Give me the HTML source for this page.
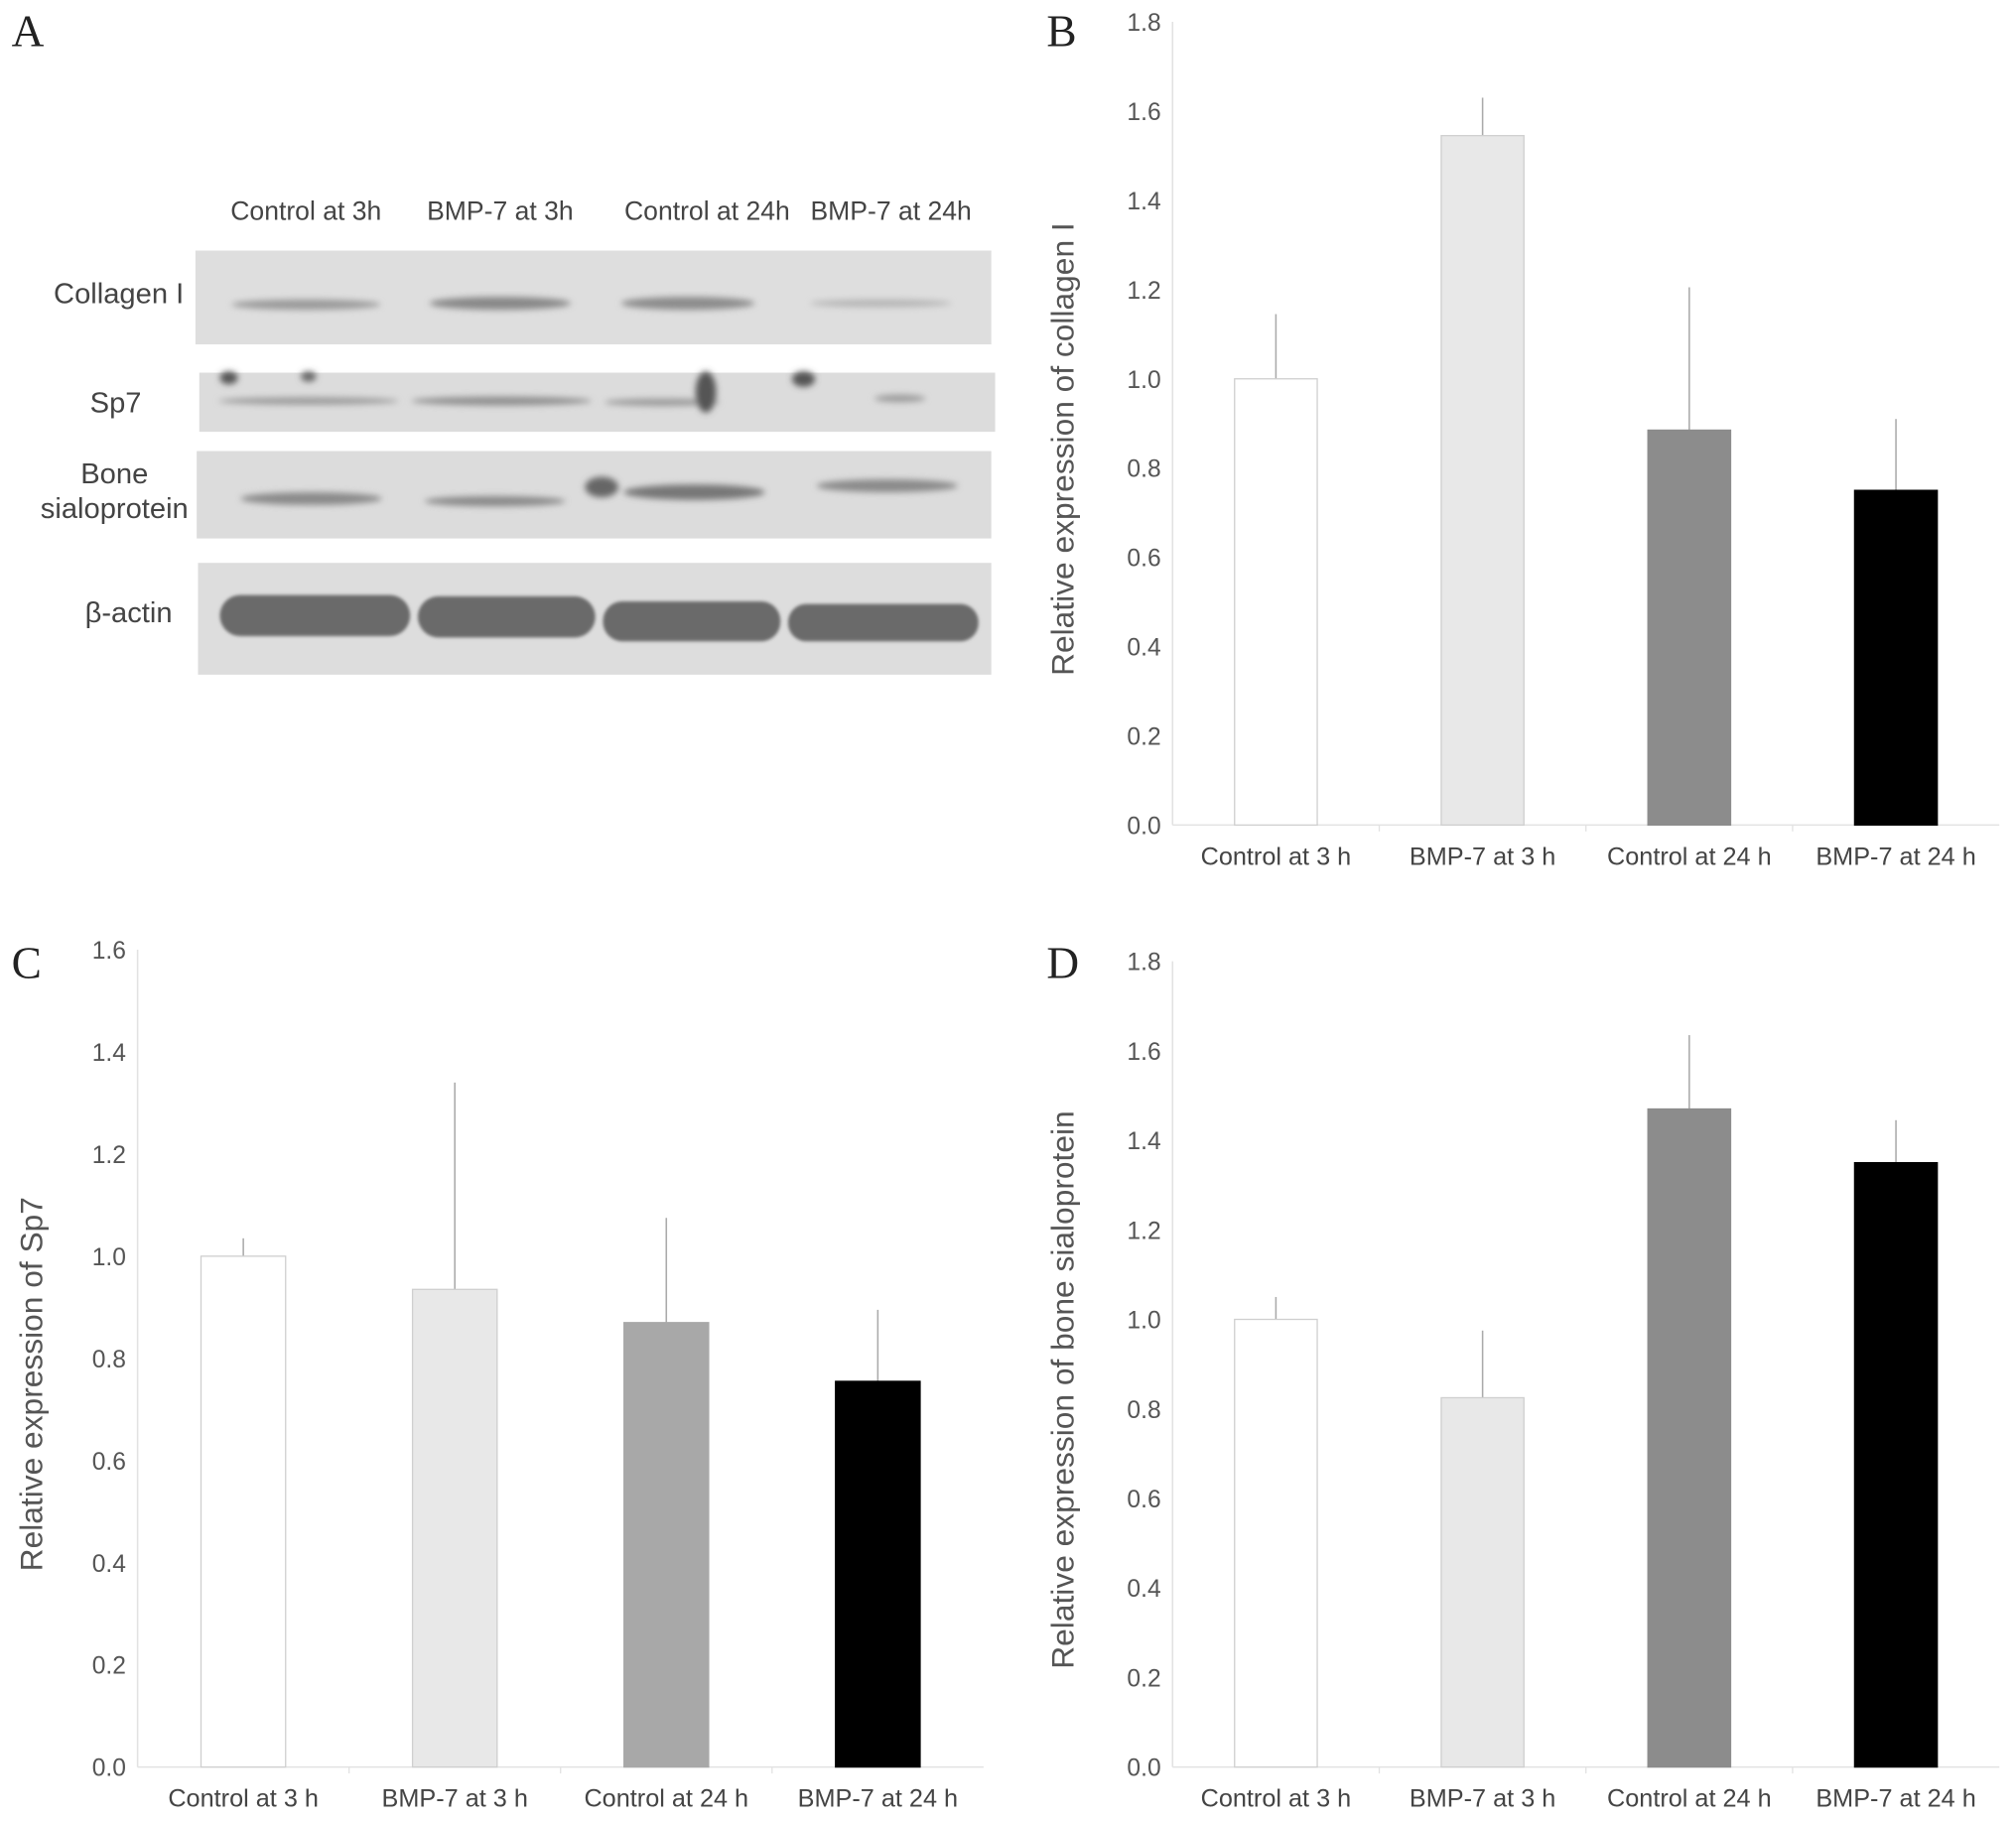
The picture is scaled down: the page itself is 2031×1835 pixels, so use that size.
<!DOCTYPE html>
<html><head><meta charset="utf-8"><style>
html,body{margin:0;padding:0;background:#fff;}
svg{display:block;}
text{font-family:"Liberation Sans",sans-serif;}
.tick{fill:#555;font-size:19px;}
.cat{fill:#444;font-size:19.5px;}
.ytitle{fill:#555;font-size:24.5px;}
.letter{font-family:"Liberation Serif",serif;font-size:35px;fill:#222;}
.blab{fill:#444;font-size:20.5px;}
.rlab{fill:#444;font-size:22.5px;}
</style></head><body>
<svg id="fig" width="2031" height="1835" viewBox="0 0 1568 1417" preserveAspectRatio="none" xmlns="http://www.w3.org/2000/svg">
<defs>
<filter id="blur2" x="-20%" y="-50%" width="140%" height="200%"><feGaussianBlur stdDeviation="2.5"/></filter>
<filter id="blur1"><feGaussianBlur stdDeviation="1.2"/></filter>
</defs>
<text class="letter" x="9" y="36">A</text>
<text class="letter" x="814" y="36">B</text>
<text class="letter" x="9" y="761">C</text>
<text class="letter" x="814" y="761">D</text>

<g>
  <text class="blab" x="238" y="171" text-anchor="middle">Control at 3h</text>
  <text class="blab" x="389" y="171" text-anchor="middle">BMP-7 at 3h</text>
  <text class="blab" x="550" y="171" text-anchor="middle">Control at 24h</text>
  <text class="blab" x="693" y="171" text-anchor="middle">BMP-7 at 24h</text>

  <text class="rlab" x="143" y="236" text-anchor="end">Collagen I</text>
  <text class="rlab" x="110" y="321" text-anchor="end">Sp7</text>
  <text class="rlab" x="89" y="376" text-anchor="middle">Bone</text>
  <text class="rlab" x="89" y="403" text-anchor="middle">sialoprotein</text>
  <text class="rlab" x="134" y="484" text-anchor="end">β-actin</text>

  <g>
    <rect x="152" y="195" width="619" height="73" fill="#dedede"/>
    <g filter="url(#blur2)" fill="#9a9a9a">
      <ellipse cx="238" cy="237" rx="58" ry="4"/>
      <ellipse cx="389" cy="236" rx="55" ry="5" fill="#888"/>
      <ellipse cx="535" cy="236" rx="52" ry="5" fill="#8c8c8c"/>
      <ellipse cx="685" cy="236" rx="55" ry="3" fill="#b5b5b5"/>
    </g>
  </g>
  <g>
    <rect x="155" y="290" width="619" height="46" fill="#dcdcdc"/>
    <g filter="url(#blur2)" fill="#9c9c9c">
      <ellipse cx="240" cy="312" rx="70" ry="3"/>
      <ellipse cx="390" cy="312" rx="70" ry="3.5" fill="#909090"/>
      <ellipse cx="515" cy="313" rx="45" ry="3"/>
      <ellipse cx="549" cy="305" rx="8" ry="16" fill="#555"/>
      <ellipse cx="625" cy="295" rx="9" ry="6" fill="#555"/>
      <ellipse cx="178" cy="294" rx="7" ry="5" fill="#555"/>
      <ellipse cx="240" cy="293" rx="6" ry="4" fill="#666"/>
      <ellipse cx="700" cy="310" rx="20" ry="3"/>
    </g>
  </g>
  <g>
    <rect x="153" y="351" width="618" height="68" fill="#dcdcdc"/>
    <g filter="url(#blur2)" fill="#8a8a8a">
      <ellipse cx="242" cy="388" rx="55" ry="5"/>
      <ellipse cx="385" cy="390" rx="55" ry="4"/>
      <ellipse cx="468" cy="379" rx="13" ry="8" fill="#666"/>
      <ellipse cx="540" cy="383" rx="55" ry="6" fill="#777"/>
      <ellipse cx="690" cy="378" rx="55" ry="5"/>
    </g>
  </g>
  <g>
    <rect x="154" y="438" width="617" height="87" fill="#dddddd"/>
    <g filter="url(#blur1)" fill="#6a6a6a">
      <rect x="171" y="463" width="148" height="32" rx="16"/>
      <rect x="325" y="464" width="138" height="32" rx="16"/>
      <rect x="469" y="468" width="138" height="31" rx="15"/>
      <rect x="613" y="470" width="148" height="29" rx="14"/>
    </g>
  </g>
</g>

<g id="chartB"></g>
<g id="chartC"></g>
<g id="chartD"></g>
</svg>
<script>
const categories = ["Control at 3 h", "BMP-7 at 3 h", "Control at 24 h", "BMP-7 at 24 h"];
const barColors = ["#ffffff", "#e8e8e8", "#8c8c8c", "#000000"];
const barColorsC = ["#ffffff", "#e8e8e8", "#a8a8a8", "#000000"];
const collagenValues = [1.0, 1.545, 0.885, 0.75];
const collagenErrors = [0.145, 0.085, 0.32, 0.16];
const sp7Values = [1.0, 0.935, 0.87, 0.755];
const sp7Errors = [0.035, 0.405, 0.205, 0.14];
const bspValues = [1.0, 0.825, 1.47, 1.35];
const bspErrors = [0.05, 0.15, 0.165, 0.095];
const ticks18 = ["0.0","0.2","0.4","0.6","0.8","1.0","1.2","1.4","1.6","1.8"];
const ticks16 = ["0.0","0.2","0.4","0.6","0.8","1.0","1.2","1.4","1.6"];

const NS = "http://www.w3.org/2000/svg";
function mk(tag, attrs, parent){
  const e = document.createElementNS(NS, tag);
  for (const k in attrs) e.setAttribute(k, attrs[k]);
  parent.appendChild(e);
  return e;
}
function drawChart(id, o, values, errors, ticks, colors, title){
  const g = document.getElementById(id);
  const max = parseFloat(ticks[ticks.length-1]);
  const y = v => o.y0 - (v / max) * (o.y0 - o.yTop);
  const band = (o.x1 - o.x0) / categories.length;
  const x = i => o.x0 + band * (i + 0.5);
  const bw = band * 0.4;
  const ya = mk("line", {x1:o.x0, x2:o.x0, y1:o.yTop, y2:o.y0, stroke:"#e2e2e2", "stroke-width":1.2}, g);
  
  
  const xa = mk("line", {x1:o.x0, x2:o.x1, y1:o.y0, y2:o.y0, stroke:"#e2e2e2", "stroke-width":1.2}, g);
  
  
  ticks.forEach((t) => {
    const v = parseFloat(t);
    const tl = mk("text", {x:o.x0 - 9, y:y(v) + 7, "text-anchor":"end", class:"tick"}, g);
    tl.textContent = t;
    
    
  });
  for (let i = 1; i < categories.length; i++) {
    const tk = mk("line", {x1:o.x0 + band*i, x2:o.x0 + band*i, y1:o.y0, y2:o.y0 + 5, stroke:"#e2e2e2"}, g);
    
    
  }
  categories.forEach((c, i) => {
    const eb = mk("line", {x1:x(i), x2:x(i), y1:y(values[i]), y2:y(values[i] + errors[i]), stroke:"#aaaaaa", "stroke-width":1.2}, g);
    
    
    const r = mk("rect", {x:x(i) - bw/2, y:y(values[i]), width:bw, height:o.y0 - y(values[i]), fill:colors[i], stroke: i < 2 ? "#cfcfcf" : colors[i], "stroke-width":1}, g);
    
    
    const cl = mk("text", {x:x(i), y:o.y0 + 31, "text-anchor":"middle", class:"cat"}, g);
    cl.textContent = c;
    
    
  });
  const tt = mk("text", {x:0, y:0, "text-anchor":"middle", class:"ytitle", transform:`translate(${o.tx},${(o.y0+o.yTop)/2 + 20}) rotate(-90)`}, g);
  tt.textContent = title;
  
  
}
drawChart("chartB", {x0:912, x1:1555, y0:642, yTop:17, tx:835}, collagenValues, collagenErrors, ticks18, barColors, "Relative expression of collagen I");
drawChart("chartC", {x0:107, x1:765, y0:1375, yTop:739, tx:33}, sp7Values, sp7Errors, ticks16, barColorsC, "Relative expression of Sp7");
drawChart("chartD", {x0:912, x1:1555, y0:1375, yTop:748, tx:835}, bspValues, bspErrors, ticks18, barColors, "Relative expression of bone sialoprotein");
</script>
</body></html>
